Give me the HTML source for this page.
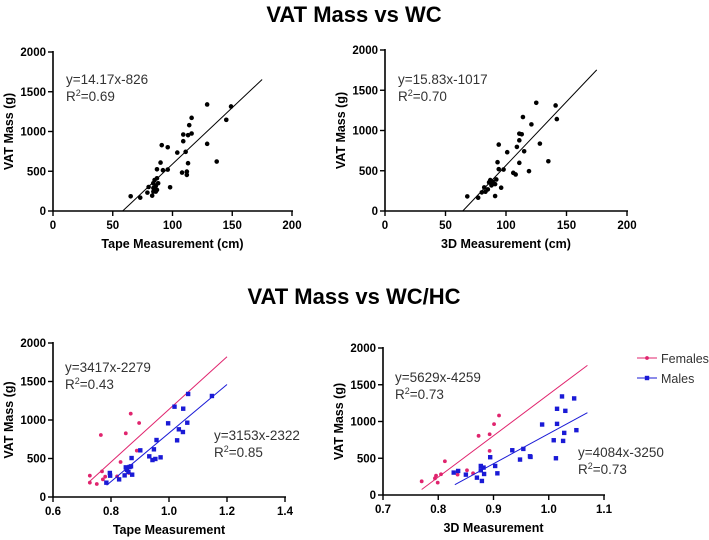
<!DOCTYPE html>
<html><head><meta charset="utf-8">
<style>
html,body{margin:0;padding:0;background:#fff;}
svg{display:block;font-family:"Liberation Sans",Arial,sans-serif;}
</style></head>
<body>
<svg id="chart" width="709" height="540" viewBox="0 0 709 540" xmlns="http://www.w3.org/2000/svg">
<text x="354" y="22" text-anchor="middle" font-size="22" font-weight="bold">VAT Mass vs WC</text>
<text x="354" y="304" text-anchor="middle" font-size="22" font-weight="bold">VAT Mass vs WC/HC</text>
</svg>
<script>
// Panel 1: Tape measurement (cm)
const p1X = [65,73,80,79,83,84,87,90,91,92,96,96,98,104,108,109,109,111,112,112,113,113,114,116,116,129,129,137,145,149,84,84,85,86,87,84,87,86,88];
const p1Y = [185,168,302,231,193,349,525,609,828,513,802,521,298,735,483,962,878,744,454,496,601,954,1080,975,1172,845,1340,622,1147,1315,349,290,390,315,412,244,265,244,349];
const p1Fit = [14.17,-826];
// Panel 2: 3D measurement (cm)
const p2X = [68,77,80,82,83,85,86,87,88,89,91,92,91,93,94,94,96,98,101,106,108,109,111,111,111,113,114,115,119,121,125,128,135,141,142];
const p2Y = [181,165,231,293,239,268,355,384,318,363,334,392,186,606,825,520,289,515,730,474,454,796,598,878,961,953,1167,742,495,1076,1344,837,618,1311,1142];
const p2Fit = [15.83,-1017];
// Panel 3: Tape WC/HC
const p3FemX = [0.727,0.727,0.751,0.765,0.769,0.772,0.780,0.821,0.833,0.851,0.862,0.868,0.889,0.897];
const p3FemY = [277,186,169,805,333,229,264,268,455,827,312,1082,602,961];
const p3MalX = [0.784,0.796,0.797,0.828,0.847,0.851,0.855,0.860,0.864,0.869,0.873,0.871,0.901,0.932,0.943,0.948,0.953,0.957,0.971,0.997,1.019,1.028,1.034,1.048,1.049,1.063,1.066,1.148];
const p3MalY = [186,312,277,229,281,385,351,325,390,398,290,506,606,528,480,619,494,740,515,957,1173,736,879,844,1147,965,1338,1312];
const p3FemFit = [3417,-2279];
const p3MalFit = [3153,-2322];
// Panel 4: 3D WC/HC
const p4FemX = [0.770,0.794,0.796,0.799,0.805,0.812,0.835,0.852,0.863,0.873,0.893,0.893,0.901,0.910];
const p4FemY = [186,227,264,168,282,459,277,336,295,805,827,600,964,1082];
const p4MalX = [0.828,0.836,0.850,0.870,0.877,0.877,0.879,0.882,0.883,0.894,0.903,0.907,0.934,0.948,0.954,0.966,0.967,0.988,1.009,1.013,1.015,1.015,1.024,1.026,1.028,1.030,1.046,1.050];
const p4MalY = [305,327,277,236,395,336,191,373,286,514,395,295,609,482,627,527,518,959,745,500,1173,968,1341,736,845,1145,1314,882];
const p4FemFit = [5629,-4259];
const p4MalFit = [4084,-3250];
const yTicks = [0,500,1000,1500,2000];
const xTicksCm = [0,50,100,150,200];
const xTicksTape = [0.6,0.8,1.0,1.2,1.4];
const xTicksD3 = [0.7,0.8,0.9,1.0,1.1];

const NS='http://www.w3.org/2000/svg';
const svg=document.getElementById('chart');
function mk(tag,attrs,parent){const e=document.createElementNS(NS,tag);for(const k in attrs)e.setAttribute(k,attrs[k]);(parent||svg).appendChild(e);return e;}
function txt(s,x,y,attrs,parent){const e=mk('text',Object.assign({x:x,y:y},attrs),parent);e.textContent=s;return e;}

function panel(cfg){
  const g=mk('g',{});
  
  
  const sx=v=>cfg.x0+(v-cfg.xmin)/(cfg.xmax-cfg.xmin)*(cfg.x1-cfg.x0);
  const sy=v=>cfg.y0-(v-0)/2000*(cfg.y0-cfg.y1);
  const ax=mk('line',{x1:cfg.x0,y1:cfg.y1-1,x2:cfg.x0,y2:cfg.y0,stroke:'#000','stroke-width':1.6},g);
  
  const bx=mk('line',{x1:cfg.x0,y1:cfg.y0,x2:cfg.x1+1,y2:cfg.y0,stroke:'#000','stroke-width':1.6},g);
  
  yTicks.forEach(t=>{const y=sy(t);mk('line',{x1:cfg.x0-5,y1:y,x2:cfg.x0,y2:y,stroke:'#000','stroke-width':1.4},g);
    const l=txt(String(t),cfg.x0-7,y+4,{'text-anchor':'end','font-size':11.5,'font-weight':'bold'},g);
    });
  cfg.xticks.forEach(t=>{const x=sx(t);mk('line',{x1:x,y1:cfg.y0,x2:x,y2:cfg.y0+5,stroke:'#000','stroke-width':1.4},g);
    const l=txt(cfg.fmt(t),x,cfg.y0+18,{'text-anchor':'middle','font-size':11.5,'font-weight':'bold'},g);
    });
  const xt=txt(cfg.xtitle,(cfg.x0+cfg.x1)/2,cfg.y0+37,{'text-anchor':'middle','font-size':12.5,'font-weight':'bold'},g);
  
  const yc=(cfg.y0+cfg.y1)/2, yx=cfg.x0-40;
  const yt=txt('VAT Mass (g)',yx,yc,{'text-anchor':'middle','font-size':12.5,'font-weight':'bold',transform:'rotate(-90 '+yx+' '+yc+')'},g);
  
  cfg.series.forEach(s=>{
    const fx0=Math.max(s.lx[0],-s.fit[1]/s.fit[0]);
    const ln=mk('line',{x1:sx(fx0),y1:sy(s.fit[0]*fx0+s.fit[1]),x2:sx(s.lx[1]),y2:sy(s.fit[0]*s.lx[1]+s.fit[1]),stroke:s.color,'stroke-width':1},g);
    
    s.xs.forEach((v,i)=>{
      let p;
      if(s.shape==='sq'){p=mk('rect',{x:sx(v)-2.2,y:sy(s.ys[i])-2.2,width:4.4,height:4.4,fill:s.color},g);}
      else{p=mk('circle',{cx:sx(v),cy:sy(s.ys[i]),r:s.r||2.2,fill:s.color},g);}
      
      
    });
    const e1=txt(s.eq,s.ex,s.ey,{'font-size':13.5,fill:'#333'},g);
    
    const e2=mk('text',{x:s.ex,y:s.ey+17,'font-size':13.5,fill:'#333'},g);
    e2.innerHTML='R<tspan dy="-5" font-size="9">2</tspan><tspan dy="5">'+s.r2+'</tspan>';
    
  });
}
const PINK='#e0246e', BLUE='#1a1ad6';
panel({name:'panel-tape-wc',x0:53,x1:292,y0:211,y1:52,xmin:0,xmax:200,xticks:xTicksCm,fmt:t=>String(t),xtitle:'Tape Measurement (cm)',
  series:[{xs:p1X,ys:p1Y,fit:p1Fit,lx:[0,175],color:'#000',shape:'c',r:2.3,eq:'y=14.17x-826',r2:'=0.69',ex:66,ey:84}]});
panel({name:'panel-3d-wc',x0:385,x1:627,y0:211,y1:50,xmin:0,xmax:200,xticks:xTicksCm,fmt:t=>String(t),xtitle:'3D Measurement (cm)',
  series:[{xs:p2X,ys:p2Y,fit:p2Fit,lx:[0,175],color:'#000',shape:'c',r:2.3,eq:'y=15.83x-1017',r2:'=0.70',ex:398,ey:84}]});
panel({name:'panel-tape-wchc',x0:53,x1:285,y0:497,y1:343,xmin:0.6,xmax:1.4,xticks:xTicksTape,fmt:t=>t.toFixed(1),xtitle:'Tape Measurement',
  series:[{xs:p3FemX,ys:p3FemY,fit:p3FemFit,lx:[0.727,1.2],color:PINK,shape:'c',r:1.9,eq:'y=3417x-2279',r2:'=0.43',ex:65,ey:372},
          {xs:p3MalX,ys:p3MalY,fit:p3MalFit,lx:[0.785,1.2],color:BLUE,shape:'sq',eq:'y=3153x-2322',r2:'=0.85',ex:214,ey:440}]});
panel({name:'panel-3d-wchc',x0:383,x1:604,y0:495,y1:348,xmin:0.7,xmax:1.1,xticks:xTicksD3,fmt:t=>t.toFixed(1),xtitle:'3D Measurement',
  series:[{xs:p4FemX,ys:p4FemY,fit:p4FemFit,lx:[0.77,1.07],color:PINK,shape:'c',r:1.9,eq:'y=5629x-4259',r2:'=0.73',ex:395,ey:382},
          {xs:p4MalX,ys:p4MalY,fit:p4MalFit,lx:[0.83,1.07],color:BLUE,shape:'sq',eq:'y=4084x-3250',r2:'=0.73',ex:578,ey:457}]});
// Legend
const lg=mk('g',{});


[['Females',PINK,358,'c'],['Males',BLUE,378,'sq']].forEach(d=>{
  mk('line',{x1:637,y1:d[2],x2:657,y2:d[2],stroke:d[1],'stroke-width':1},lg);
  if(d[3]==='c')mk('circle',{cx:647,cy:d[2],r:1.9,fill:d[1]},lg);else mk('rect',{x:644.8,y:d[2]-2.2,width:4.4,height:4.4,fill:d[1]},lg);
  const t=txt(d[0],661,d[2]+5,{'font-size':12.5,fill:'#333'},lg);
  
  
});
</script>
</body></html>
